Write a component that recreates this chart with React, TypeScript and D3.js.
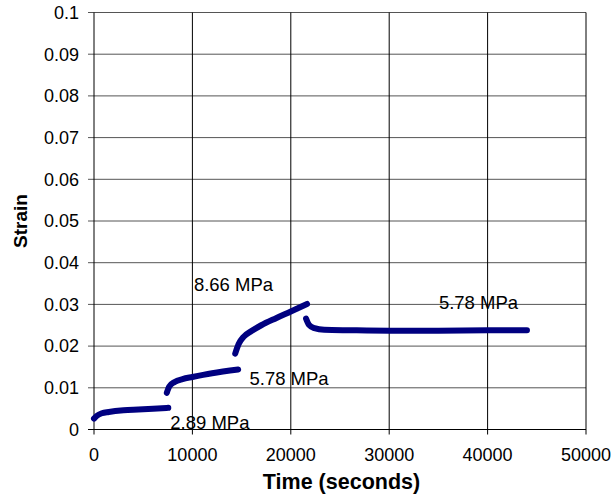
import React from "react";
import * as d3 from "d3";

// Creep strain under stepped stress levels
const seg1: [number, number][] = [
  [0, 0.0026], [300, 0.0033], [800, 0.0039], [1500, 0.0042], [3000, 0.0046],
  [4500, 0.0048], [6000, 0.0050], [7550, 0.0052],
];
const seg2: [number, number][] = [
  [7400, 0.0088], [7650, 0.0103], [8200, 0.0114], [9000, 0.0121],
  [10000, 0.0126], [12000, 0.0135], [14650, 0.0144],
];
const seg3: [number, number][] = [
  [14350, 0.0182], [14700, 0.0205], [15200, 0.0222], [16000, 0.0236],
  [17000, 0.0250], [18500, 0.0267], [20000, 0.0283], [21650, 0.0301],
];
const seg4: [number, number][] = [
  [21550, 0.0266], [21850, 0.0251], [22400, 0.0243], [23400, 0.0239],
  [26000, 0.0238], [30000, 0.0237], [35000, 0.0237], [40000, 0.0238],
  [44000, 0.0238],
];
const segments = [seg1, seg2, seg3, seg4];

const stressLabels: { text: string; t: number; s: number }[] = [
  { text: "2.89 MPa", t: 7750, s: 0.0001 },
  { text: "5.78 MPa", t: 15800, s: 0.0106 },
  { text: "8.66 MPa", t: 10150, s: 0.0332 },
  { text: "5.78 MPa", t: 35050, s: 0.0288 },
];

const xTicks = [0, 10000, 20000, 30000, 40000, 50000];
const yTicks = [0, 0.01, 0.02, 0.03, 0.04, 0.05, 0.06, 0.07, 0.08, 0.09, 0.1];

const W = 613;
const H = 497;
const left = 94;
const right = 586;
const top = 12.5;
const bottom = 429.5;

export default function App() {
  const x = d3.scaleLinear().domain([0, 50000]).range([left, right]);
  const y = d3.scaleLinear().domain([0, 0.1]).range([bottom, top]);
  const line = d3
    .line<[number, number]>()
    .x((d) => x(d[0]))
    .y((d) => y(d[1]))
    .curve(d3.curveMonotoneX);
  const font = "Arial, 'Liberation Sans', sans-serif";
  const yFmt = (v: number) => (v === 0 ? "0" : d3.format(".2~f")(v));

  return (
    <svg
      width={W}
      height={H}
      style={{ position: "absolute", left: 0, top: 0, background: "#fff" }}
      fontFamily={font}
    >
      {/* horizontal grid */}
      {yTicks.map((v) => (
        <line
          key={"hg" + v}
          x1={left - 6}
          x2={right}
          y1={y(v)}
          y2={y(v)}
          stroke={v === 0 ? "#000" : "#555"}
          strokeWidth={1}
        />
      ))}
      {/* vertical grid */}
      {xTicks.map((v) => (
        <line
          key={"vg" + v}
          x1={x(v)}
          x2={x(v)}
          y1={top}
          y2={bottom + 5}
          stroke="#000"
          strokeWidth={1}
        />
      ))}
      {/* y tick labels */}
      {yTicks.map((v) => (
        <text
          key={"yl" + v}
          x={left - 15}
          y={y(v)}
          dy="0.35em"
          textAnchor="end"
          fontSize={18}
          fill="#000"
        >
          {yFmt(v)}
        </text>
      ))}
      {/* x tick labels */}
      {xTicks.map((v) => (
        <text
          key={"xl" + v}
          x={x(v)}
          y={bottom + 31}
          textAnchor="middle"
          fontSize={18}
          fill="#000"
        >
          {v}
        </text>
      ))}
      {/* data */}
      {segments.map((seg, i) => (
        <path
          key={"s" + i}
          d={line(seg) || ""}
          fill="none"
          stroke="#000080"
          strokeWidth={6}
          strokeLinecap="round"
          strokeLinejoin="round"
        />
      ))}
      {/* stress labels */}
      {stressLabels.map((l, i) => (
        <text key={"lab" + i} x={x(l.t)} y={y(l.s)} fontSize={18.5} fill="#000">
          {l.text}
        </text>
      ))}
      {/* axis titles */}
      <text
        x={341.5}
        y={489}
        textAnchor="middle"
        fontSize={21.5}
        fontWeight="bold"
        fill="#000"
      >
        Time (seconds)
      </text>
      <text
        transform={`translate(27,${(top + bottom) / 2}) rotate(-90)`}
        textAnchor="middle"
        fontSize={19}
        fontWeight="bold"
        fill="#000"
      >
        Strain
      </text>
    </svg>
  );
}
